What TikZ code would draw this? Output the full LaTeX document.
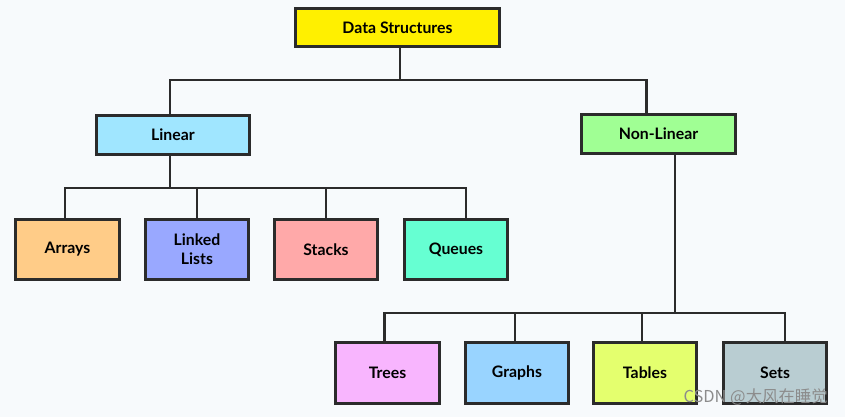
\documentclass[tikz,border=0pt]{standalone}
\usepackage{fontspec}
\setmainfont{Lato}
\newfontfamily\cjk{Noto Sans CJK SC}
\usetikzlibrary{positioning}

\definecolor{bgcol}{HTML}{F7FAFC}
\definecolor{edgecol}{HTML}{2B2B2B}
\definecolor{dscol}{HTML}{FFF000}
\definecolor{lincol}{HTML}{A0E6FF}
\definecolor{nlincol}{HTML}{A0FF94}
\definecolor{arrcol}{HTML}{FFCC88}
\definecolor{llcol}{HTML}{99A8FF}
\definecolor{stkcol}{HTML}{FFA9A9}
\definecolor{quecol}{HTML}{66FFD2}
\definecolor{treecol}{HTML}{F8B5FE}
\definecolor{graphcol}{HTML}{99D4FF}
\definecolor{tabcol}{HTML}{E4FF6E}
\definecolor{setcol}{HTML}{B9CDD2}

\tikzset{
  box/.style={draw=edgecol,line width=2.4pt,font=\fontsize{13.5}{16}\selectfont\bfseries,
              align=center,inner sep=0pt},
  topbox/.style={box,minimum width=6.1cm,minimum height=1.15cm},
  midbox/.style={box,minimum width=4.6cm,minimum height=1.18cm},
  leafbox/.style={box,minimum width=3.1cm,minimum height=1.82cm},
  link/.style={draw=edgecol,line width=2.4pt,line cap=rect}
}

\begin{document}
\begin{tikzpicture}[x=0.03cm,y=-0.03cm]

  \fill[bgcol] (0,0) rectangle (845,417);
  \useasboundingbox (0,0) rectangle (845,417);

  \node[topbox,fill=dscol] (ds) at (397.5,27.5) {Data Structures};

  \node[midbox,fill=lincol] (lin) at (173,135) {Linear};
  \node[midbox,fill=nlincol] (nlin) at (658.5,134) {Non-Linear};

  \node[leafbox,fill=arrcol] (arr) at (67.5,249.5) {Arrays};
  \node[leafbox,fill=llcol] (ll) at (197,249.5) {Linked\\Lists};
  \node[leafbox,fill=stkcol] (stk) at (326,249.5) {Stacks};
  \node[leafbox,fill=quecol] (que) at (456,249.5) {Queues};

  \node[leafbox,fill=treecol] (tree) at (387.5,373) {Trees};
  \node[leafbox,fill=graphcol] (graph) at (517,373) {Graphs};
  \node[leafbox,fill=tabcol] (tab) at (645,373) {Tables};
  \node[leafbox,fill=setcol] (set) at (775,373) {Sets};

  % junctions
  \coordinate (j1) at (400,80);
  \coordinate (j2) at (170,188);
  \coordinate (j3) at (675,313);

  \draw[link] (ds.south -| j1) -- (j1);
  \draw[link] (j1) -| ([xshift=-3*0.03cm]lin.north);
  \draw[link] (j1) -| ([xshift=-12*0.03cm]nlin.north);

  \draw[link] (lin.south -| j2) -- (j2);
  \draw[link] (j2) -| ([xshift=-2.5*0.03cm]arr.north);
  \draw[link] (j2) -| (ll.north);
  \draw[link] (j2) -| (stk.north);
  \draw[link] (j2) -| ([xshift=10*0.03cm]que.north);

  \draw[link] (nlin.south -| j3) -- (j3);
  \draw[link] (j3) -| ([xshift=-3*0.03cm]tree.north);
  \draw[link] (j3) -| ([xshift=-2*0.03cm]graph.north);
  \draw[link] (j3) -| ([xshift=-3*0.03cm]tab.north);
  \draw[link] (j3) -| ([xshift=10*0.03cm]set.north);

  % watermark
  \node[anchor=east,text=black!45,font=\cjk\fontsize{14}{16}\selectfont,inner sep=0pt]
    (mark) at (828,397) {CSDN @大风在睡觉};

\end{tikzpicture}
\end{document}
